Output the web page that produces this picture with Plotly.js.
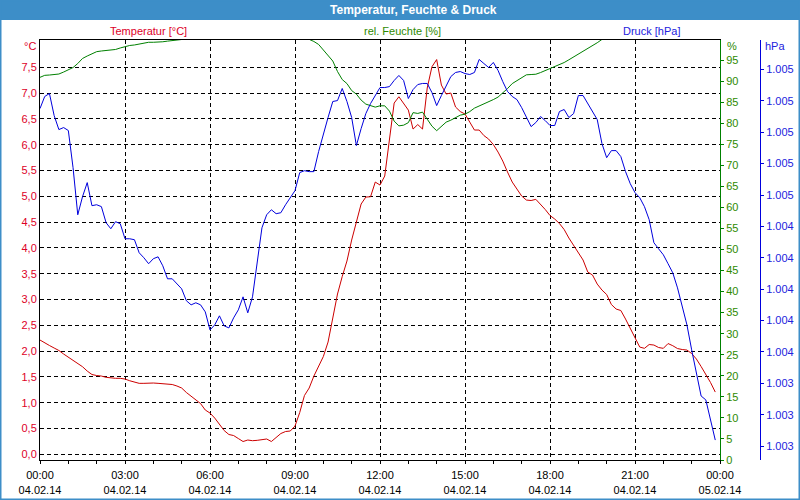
<!DOCTYPE html>
<html>
<head>
<meta charset="utf-8">
<script src="https://cdn.plot.ly/plotly-3.0.1.min.js"></script>
<style>
html,body{margin:0;padding:0;background:#fff;}
#chart{width:800px;height:500px;}
</style>
</head>
<body>
<div id="chart"></div>
<script>
// Readings every 10 minutes, 04.02.14 00:00 .. 23:50
const startDay = '2014-02-04';
const stepMinutes = 10;

const temperature = [
2.215,2.157,2.109,2.060,2.012,1.944,1.880,1.822,1.769,1.698,
1.614,1.547,1.527,1.517,1.492,1.479,1.473,1.473,1.459,1.426,
1.401,1.376,1.376,1.382,1.382,1.376,1.372,1.362,1.353,1.324,
1.285,1.198,1.130,1.062,0.984,0.859,0.800,0.703,0.587,0.461,
0.384,0.364,0.306,0.248,0.277,0.264,0.271,0.287,0.297,0.248,
0.335,0.403,0.442,0.452,0.548,0.810,1.140,1.285,1.517,1.692,
1.895,2.176,2.680,3.107,3.446,3.746,4.153,4.502,4.851,4.986,
4.992,5.277,5.219,5.393,6.149,6.808,6.930,6.789,6.672,6.304,
6.391,6.304,7.099,7.512,7.651,7.157,6.983,7.002,6.731,6.643,
6.595,6.440,6.285,6.285,6.178,6.110,6.004,5.858,5.684,5.471,
5.277,5.141,5.006,4.928,4.919,4.942,4.851,4.744,4.628,4.560,
4.473,4.357,4.192,4.047,3.911,3.766,3.533,3.475,3.300,3.184,
3.097,2.903,2.816,2.787,2.622,2.448,2.279,2.079,2.054,2.128,
2.118,2.070,2.054,2.147,2.105,2.050,2.031,2.021,1.953,1.847,
1.702,1.556,1.391,1.207
];

const humidity = [
90.88,91.36,91.43,91.55,91.67,92.14,92.62,93.21,94.17,95.36,
95.95,96.43,96.98,97.14,97.21,97.38,97.50,97.86,98.17,98.45,
98.57,98.81,99.05,99.21,99.21,99.21,99.33,99.48,99.64,99.76,
99.83,100,100,100,100,100,100,100,100,100,
100,100,100,100,100,100,100,100,100,100,
100,100,100,100,100,100,100,99.9,99.40,98.69,
97.38,96.19,94.76,92.26,90.36,89.40,87.74,86.90,85.48,84.52,
84.24,83.81,84.12,84.12,82.86,80.48,79.36,79.52,80.12,82.50,
82.31,82.62,80.95,79.29,78.21,79.29,80.24,80.71,81.31,81.90,
82.14,82.74,83.57,84.05,84.52,85.00,85.60,86.19,87.14,88.21,
89.40,90.12,90.95,91.48,91.55,91.62,92.02,92.50,93.02,93.45,
93.81,94.40,95.05,95.71,96.43,97.02,97.62,98.33,99.10,99.88,
100,100,100,100,100,100,100,100,100,100,
100,100,100,100,100,100,100,100,100,100,
100,100,100,100
];

const pressure = [
1005.151,1005.228,1005.247,1005.106,1005.017,1005.030,1005.011,1004.774,1004.474,1004.589,
1004.679,1004.532,1004.538,1004.526,1004.423,1004.385,1004.430,1004.417,1004.321,1004.321,
1004.315,1004.232,1004.200,1004.162,1004.194,1004.206,1004.149,1004.066,1004.066,1004.034,
1004.002,1003.926,1003.900,1003.913,1003.900,1003.855,1003.740,1003.772,1003.830,1003.766,
1003.753,1003.817,1003.868,1003.951,1003.849,1003.951,1004.174,1004.391,1004.474,1004.506,
1004.481,1004.487,1004.538,1004.583,1004.628,1004.743,1004.755,1004.749,1004.749,1004.877,
1004.991,1005.094,1005.196,1005.202,1005.279,1005.196,1005.094,1004.915,1005.023,1005.119,
1005.183,1005.234,1005.285,1005.285,1005.291,1005.330,1005.362,1005.330,1005.215,1005.272,
1005.304,1005.311,1005.311,1005.253,1005.170,1005.234,1005.298,1005.355,1005.381,1005.387,
1005.374,1005.368,1005.381,1005.464,1005.438,1005.413,1005.445,1005.394,1005.323,1005.260,
1005.228,1005.208,1005.157,1005.094,1005.036,1005.062,1005.100,1005.074,1005.043,1005.043,
1005.132,1005.145,1005.094,1005.119,1005.234,1005.234,1005.183,1005.132,1005.081,1004.928,
1004.838,1004.883,1004.883,1004.845,1004.749,1004.672,1004.615,1004.583,1004.526,1004.443,
1004.296,1004.257,1004.219,1004.162,1004.104,1004.008,1003.894,1003.772,1003.613,1003.472,
1003.319,1003.294,1003.166,1003.038
];

const tempTicks = [0,0.5,1,1.5,2,2.5,3,3.5,4,4.5,5,5.5,6,6.5,7,7.5];
const humTicks = [0,5,10,15,20,25,30,35,40,45,50,55,60,65,70,75,80,85,90,95];
const pTickVals = [1003.0,1003.2,1003.4,1003.6,1003.8,1004.0,1004.2,1004.4,1004.6,1004.8,1005.0,1005.2,1005.4];
const pTickText = ['1.003','1.003','1.003','1.004','1.004','1.004','1.004','1.004','1.005','1.005','1.005','1.005','1.005'];

const titleText = 'Temperatur, Feuchte & Druck';
const tempLabel = 'Temperatur [°C]';
const humLabel = 'rel. Feuchte [%]';
const presLabel = 'Druck [hPa]';

function pad(n){return (n<10?'0':'')+n;}
const times = temperature.map(function(_, i){
  const m = i*stepMinutes;
  return startDay + ' ' + pad(Math.floor(m/60)) + ':' + pad(m%60);
});

const RED = '#cc0000', RED_T = '#dd0028';
const GREEN = '#008000', GREEN_T = '#2e8a00';
const BLUE = '#0000dd', BLUE_T = '#2222dd';
const BAR = '#3d8ec8';
const FONT = 'Liberation Sans, Arial, sans-serif';

const W = 730, H = 420; // paper size in px (margins l40 r30 t40 b40)
const px = function(x){return (x-40)/W;};
const py = function(y){return (460-y)/H;};

const traces = [
  {x: times, y: humidity, yaxis:'y2', type:'scatter', mode:'lines', line:{color:GREEN, width:1}, hoverinfo:'skip'},
  {x: times, y: temperature, yaxis:'y', type:'scatter', mode:'lines', line:{color:RED, width:1}, hoverinfo:'skip'},
  {x: times, y: pressure, yaxis:'y3', type:'scatter', mode:'lines', line:{color:BLUE, width:1}, hoverinfo:'skip'}
];

const layout = {
  width: 800, height: 500,
  margin: {l:40, r:30, t:40, b:40, pad:0},
  paper_bgcolor:'#ffffff', plot_bgcolor:'#ffffff',
  separators: ',.',
  showlegend: false,
  font: {family: FONT, size: 11, color:'#000'},
  title: {text: titleText, font:{family: FONT, size:12, color:'#ffffff', weight:'bold'},
          xref:'container', yref:'container', x: 413.3/800, y: 1-10/500, xanchor:'center', yanchor:'middle'},
  xaxis: {
    type:'date', domain:[0, 680/W],
    range:[startDay+' 00:00', '2014-02-05 00:00'],
    tick0: startDay+' 00:00', dtick: 3*3600000,
    tickformat:'%H:%M<br>%d.%m.%y',
    ticks:'outside', ticklen:3, tickcolor:'#000', ticklabelstandoff:2,
    showline:true, linecolor:'#000', linewidth:1, mirror:true,
    showgrid:true, gridcolor:'#000', gridwidth:1, griddash:'4px,3px',
    minor:{dtick:3600000, ticks:'outside', ticklen:3, tickcolor:'#000', showgrid:false},
    zeroline:false, fixedrange:true, tickfont:{color:'#000'}
  },
  yaxis: {
    range:[-0.11, 8.03], tickmode:'array', tickvals: tempTicks, tickformat:'.1f',
    tickfont:{color: RED_T}, ticks:'',
    showline:true, linecolor:'#000', linewidth:1,
    showgrid:true, gridcolor:'#000', gridwidth:1, griddash:'4px,3px',
    zeroline:false, fixedrange:true
  },
  yaxis2: {
    overlaying:'y', side:'right', anchor:'x', range:[0,99.75],
    tickmode:'array', tickvals: humTicks,
    tickfont:{color: GREEN_T}, ticks:'outside', ticklen:3, tickcolor:GREEN,
    showline:true, linecolor:GREEN, linewidth:1,
    showgrid:false, zeroline:false, fixedrange:true
  },
  yaxis3: {
    overlaying:'y', side:'right', anchor:'free', position: 720/W,
    range:[1002.911, 1005.588],
    tickmode:'array', tickvals: pTickVals, ticktext: pTickText,
    tickfont:{color: BLUE_T}, ticks:'outside', ticklen:3, tickcolor:BLUE,
    showline:true, linecolor:BLUE, linewidth:1,
    showgrid:false, zeroline:false, fixedrange:true
  },
  shapes: [
    {type:'rect', xref:'paper', yref:'paper', x0:px(0), x1:px(800), y0:py(20), y1:py(0),
     fillcolor:BAR, line:{width:0}, layer:'below'},
    {type:'rect', xref:'paper', yref:'paper', x0:px(0), x1:px(800), y0:py(500), y1:py(0),
     fillcolor:'rgba(0,0,0,0)', line:{color:BAR, width:3}, layer:'below'}
  ],
  annotations: [
    {text: tempLabel, xref:'paper', yref:'paper', x:px(148.7), y:py(31), xanchor:'center', yanchor:'middle', showarrow:false, font:{color:RED_T}},
    {text: humLabel, xref:'paper', yref:'paper', x:px(402.5), y:py(31), xanchor:'center', yanchor:'middle', showarrow:false, font:{color:GREEN_T}},
    {text: presLabel, xref:'paper', yref:'paper', x:px(651.7), y:py(31), xanchor:'center', yanchor:'middle', showarrow:false, font:{color:BLUE_T}},
    {text: '°C', xref:'paper', yref:'paper', x:px(37.5), y:py(45.7), xanchor:'right', yanchor:'middle', showarrow:false, font:{color:RED_T}},
    {text: '%', xref:'paper', yref:'paper', x:px(724.5), y:py(45.7), xanchor:'left', yanchor:'middle', showarrow:false, font:{color:GREEN_T}},
    {text: 'hPa', xref:'paper', yref:'paper', x:px(763), y:py(45.7), xanchor:'left', yanchor:'middle', showarrow:false, font:{color:BLUE_T}}
  ]
};

Plotly.newPlot('chart', traces, layout, {staticPlot:true, displayModeBar:false});
</script>
</body>
</html>
